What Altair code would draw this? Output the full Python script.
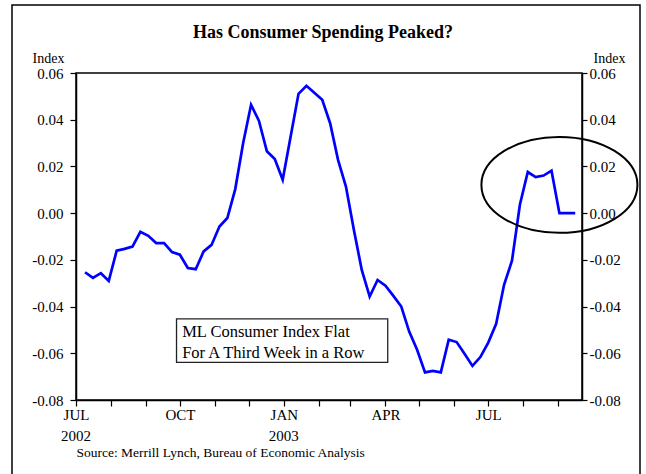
import altair as alt
import pandas as pd

# ---- data (weekly ML Consumer Index) ----
start_date = "2002-07-09"
values = [-0.0253, -0.0277, -0.0257, -0.0290, -0.0161, -0.0153, -0.0143, -0.0080, -0.0097, -0.0128,
          -0.0128, -0.0167, -0.0178, -0.0235, -0.0240, -0.0164, -0.0136, -0.0057, -0.0021, 0.0103,
          0.0300, 0.0464, 0.0395, 0.0265, 0.0232, 0.0143, 0.0327, 0.0511, 0.0545, 0.0515,
          0.0485, 0.0385, 0.0228, 0.0114, -0.0071, -0.0243, -0.0357, -0.0286, -0.0311, -0.0354,
          -0.0400, -0.0507, -0.0585, -0.0682, -0.0675, -0.0682, -0.0542, -0.0552, -0.0602, -0.0654,
          -0.0616, -0.0554, -0.0474, -0.0307, -0.0204, 0.0036, 0.0176, 0.0154, 0.0161, 0.0182,
          0.0000, 0.0000, 0.0000]
dates = pd.date_range(start_date, periods=len(values), freq="7D").strftime("%Y-%m-%d").tolist()

y_ticks = [-0.08, -0.06, -0.04, -0.02, 0.00, 0.02, 0.04, 0.06]
x_domain = ["2002-07-01", "2003-09-22"]
x_tick_months = pd.date_range("2002-07-01", "2003-09-01", freq="MS")
year_label_dates = ["2002-07-01", "2003-01-01"]
year_labels = ["2002", "2003"]

TITLE = "Has Consumer Spending Peaked?"
Y_TITLE = "Index"
SOURCE = "Source:  Merrill Lynch, Bureau of Economic Analysis"
NOTE = ["ML Consumer Index Flat", "For A Third Week in a Row"]

# annotation anchors (data coordinates)
ellipse_center = {"date": "2003-09-02", "value": 0.0121}
note_box = {"date": "2002-09-28", "date2": "2003-04-03", "value": -0.0453, "value2": -0.0639}
note_text = {"date": "2002-10-03", "value": -0.0507}

FONT = "Liberation Serif"


def ms(ts):
    return int(pd.Timestamp(ts).value // 10**6)


df = pd.DataFrame({"date": dates, "value": values})
years_df = pd.DataFrame({"date": year_label_dates, "label": year_labels})

x_scale = alt.Scale(type="utc", domain=[ms(d) for d in x_domain])
y_scale = alt.Scale(domain=[y_ticks[0], y_ticks[-1]], nice=False, zero=False)

x_label_expr = "utcmonth(datum.value) % 3 == 0 ? upper(utcFormat(datum.value, '%b')) : ''"
y_label_expr = "(datum.value < -0.00001 ? '-' : '') + format(abs(datum.value), '.2f')"

x_axis = alt.Axis(
    orient="bottom",
    values=[ms(d) for d in x_tick_months],
    labelExpr=x_label_expr, labelOverlap=False, labelFlush=False,
    labelFont=FONT, labelFontSize=15, labelColor="black", labelPadding=1,
    tickSize=6, tickColor="black", tickWidth=1.2, domainColor="black", domainWidth=1.5, grid=False,
    title=SOURCE, titleFont=FONT, titleFontSize=13.5, titleFontWeight="normal", titleColor="black",
    titleX=0, titleY=52, titleAlign="left", titleBaseline="middle",
)


def y_axis(orient, pad, tick, tx):
    return alt.Axis(
        orient=orient, values=y_ticks, labelExpr=y_label_expr,
        labelFont=FONT, labelFontSize=15, labelColor="black", labelPadding=pad,
        tickSize=tick, tickColor="black", tickWidth=1.2, domainColor="black", domainWidth=1.5, grid=False,
        title=Y_TITLE, titleFont=FONT, titleFontSize=14, titleFontWeight="normal", titleColor="black",
        titleAngle=0, titleX=tx, titleY=-15, titleAlign="center", titleBaseline="middle",
    )


line = alt.Chart(df).mark_line(color="#0000FF", strokeWidth=2.7).encode(
    x=alt.X("date:T", scale=x_scale, axis=x_axis),
    y=alt.Y("value:Q", scale=y_scale, axis=y_axis("left", 7, 6, -28)),
)

right = alt.Chart(df).mark_line(opacity=0).encode(
    x=alt.X("date:T", scale=x_scale, axis=None),
    y=alt.Y("value:Q", scale=y_scale, axis=y_axis("right", 2, 5, 27)),
)

years = alt.Chart(years_df).mark_text(
    align="center", baseline="middle", font=FONT, fontSize=15, color="black",
).encode(
    x=alt.X("date:T", scale=x_scale, axis=None),
    y=alt.value(363),
    text="label:N",
)

ellipse = alt.Chart(pd.DataFrame([ellipse_center])).mark_point(
    shape="M -1 0 A 1 0.615 0 1 0 1 0 A 1 0.615 0 1 0 -1 0",
    size=24336, filled=False, stroke="black", strokeWidth=2, opacity=1,
).encode(
    x=alt.X("date:T", scale=x_scale, axis=None),
    y=alt.Y("value:Q", scale=y_scale, axis=None),
)

box = alt.Chart(pd.DataFrame([note_box])).mark_rect(
    fill="white", stroke="#222222", strokeWidth=1.3,
).encode(
    x=alt.X("date:T", scale=x_scale, axis=None), x2="date2:T",
    y=alt.Y("value:Q", scale=y_scale, axis=None), y2="value2:Q",
)

text = alt.Chart(pd.DataFrame([note_text])).mark_text(
    align="left", baseline="middle", font=FONT, fontSize=16.5, lineHeight=21.6, color="black",
).encode(
    x=alt.X("date:T", scale=x_scale, axis=None),
    y=alt.Y("value:Q", scale=y_scale, axis=None),
    text=alt.value(NOTE),
)

title = alt.Chart(pd.DataFrame({"k": [0]})).mark_text(
    align="center", baseline="middle", font=FONT, fontSize=18, fontWeight="bold", color="black",
).encode(
    x=alt.value(247), y=alt.value(-40), text=alt.value(TITLE),
)

frame = alt.Chart(pd.DataFrame({"k": [0]})).mark_rect(
    fillOpacity=0, stroke="black", strokeWidth=1.5,
).encode(
    x=alt.value(-64), x2=alt.value(564), y=alt.value(-68), y2=alt.value(410),
)

chart = alt.layer(line, right, years, ellipse, box, text, title, frame).resolve_axis(
    x="independent", y="independent"
).properties(
    width=506, height=327,
    autosize=alt.AutoSizeParams(type="none"),
    padding={"left": 76, "top": 73, "right": 64, "bottom": 74},
    background="white",
).configure_view(stroke="black", strokeWidth=1.5)

chart.save("out.html", embed_options={"renderer": "svg", "actions": False})
